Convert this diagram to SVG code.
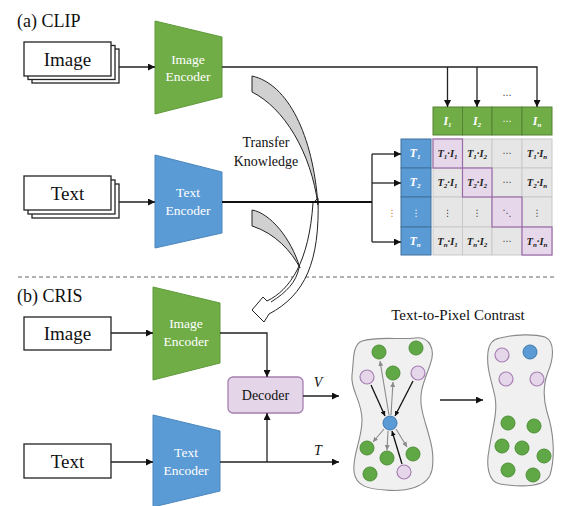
<svg xmlns="http://www.w3.org/2000/svg" width="563" height="506" viewBox="0 0 563 506" font-family="'Liberation Serif', 'Times New Roman', Times, 'Noto Serif', 'DejaVu Serif', serif">
<defs>
<style>
.ser{fill:#111}
.enc{fill:#fff;font-size:13.5px;text-anchor:middle}
.box{fill:#fff;stroke:#222;stroke-width:1.3}
.green{fill:#70ad47;stroke:#5f9a3a;stroke-width:1}
.blue{fill:#5b9bd5;stroke:#4a86bd;stroke-width:1}
.ln{fill:none;stroke:#222;stroke-width:1.3}
.lnb{fill:none;stroke:#111;stroke-width:2}
.cell{fill:#e6e6e6;stroke:#c9c9c9;stroke-width:1}
.dcell{fill:#e6d8ea;stroke:#9c6aa8;stroke-width:1.2}
.icell{fill:#70ad47;stroke:#548235;stroke-width:1}
.tcell{fill:#5b9bd5;stroke:#41719c;stroke-width:1}
.mc{font-style:italic;font-weight:bold;font-size:10.5px;fill:#222;text-anchor:middle}
.hc{font-style:italic;font-weight:bold;font-size:12px;fill:#fff;text-anchor:middle}
.sb{font-size:7px}
.dots{font-family:'DejaVu Sans',sans-serif;font-size:9px;fill:#333;text-anchor:middle}
.gc{fill:#5fa845;stroke:#4e8f37;stroke-width:1}
.pc{fill:#e6d6ea;stroke:#a77fb3;stroke-width:1.2}
.bc{fill:#5b9bd5;stroke:#3f78ad;stroke-width:1}
.ga{stroke:#8a8a8a;stroke-width:1.1;fill:none}
.ba{stroke:#111;stroke-width:1.3;fill:none}
</style>
<marker id="arr" viewBox="0 0 10 10" refX="10" refY="5" markerWidth="7" markerHeight="7" markerUnits="userSpaceOnUse" orient="auto"><path d="M0,0 L10,5 L0,10 z" fill="#111"/></marker>
<marker id="ag" viewBox="0 0 10 10" refX="10" refY="5" markerWidth="5" markerHeight="5" markerUnits="userSpaceOnUse" orient="auto"><path d="M0,0 L10,5 L0,10 z" fill="#8a8a8a"/></marker>
<marker id="ab" viewBox="0 0 10 10" refX="10" refY="5" markerWidth="5" markerHeight="5" markerUnits="userSpaceOnUse" orient="auto"><path d="M0,0 L10,5 L0,10 z" fill="#111"/></marker>
</defs>
<rect width="563" height="506" fill="#fff"/>

<text class="ser" x="17" y="27" font-size="18">(a) CLIP</text>
<text class="ser" x="17" y="302" font-size="18">(b) CRIS</text>
<line x1="18" y1="277" x2="556" y2="277" stroke="#666" stroke-width="1.2" stroke-dasharray="4,3"/>

<g id="transfer">
<path d="M318,198 C320,262 305,295 269,314 L264,322 L252,310 L263,297 L267,301 C290,290 309,262 313,203 Z" fill="#fff" stroke="#222" stroke-width="1"/>
<path d="M299,268 C296,282 287,292 271,302" fill="none" stroke="#222" stroke-width="1"/>
<path d="M252,76 C288,84 313,135 318,205 C311,152 284,108 252,92 Z" fill="#d0d0d0" stroke="#222" stroke-width="1"/>
<path d="M252,210 C270,213 291,238 300,268 C292,252 275,233 252,226 Z" fill="#d0d0d0" stroke="#222" stroke-width="1"/>
<text class="ser" x="266" y="147" font-size="14" text-anchor="middle">Transfer</text>
<text class="ser" x="266" y="166" font-size="14" text-anchor="middle">Knowledge</text>
</g>

<g id="a-image">
<rect class="box" x="32" y="49" width="87" height="34"/>
<rect class="box" x="28" y="45.5" width="87" height="34"/>
<rect class="box" x="24" y="42" width="87" height="34"/>
<text class="ser" x="67.5" y="65.5" font-size="19" text-anchor="middle">Image</text>
</g>
<g id="a-text">
<rect class="box" x="32" y="184" width="87" height="34"/>
<rect class="box" x="28" y="180" width="87" height="34"/>
<rect class="box" x="24" y="176" width="87" height="34"/>
<text class="ser" x="67.5" y="200" font-size="19" text-anchor="middle">Text</text>
</g>
<g id="a-image-encoder">
<polygon class="green" points="155,21 222,37 222,97 155,114"/>
<text class="enc" x="188" y="64">Image</text>
<text class="enc" x="188" y="81">Encoder</text>
</g>
<g id="a-text-encoder">
<polygon class="blue" points="155,155 222,172 222,233 155,248"/>
<text class="enc" x="188" y="197">Text</text>
<text class="enc" x="188" y="215">Encoder</text>
</g>

<g id="matrix">
<rect class="icell" x="433" y="107" width="29.5" height="28"/>
<rect class="icell" x="462.5" y="107" width="29.5" height="28"/>
<rect class="icell" x="492" y="107" width="30" height="28"/>
<rect class="icell" x="522" y="107" width="30" height="28"/>
<text class="hc" x="447.5" y="125">I<tspan class="sb" dy="2">1</tspan></text>
<text class="hc" x="477" y="125">I<tspan class="sb" dy="2">2</tspan></text>
<text class="dots" x="507" y="124" style="fill:#fff">⋯</text>
<text class="hc" x="537" y="125">I<tspan class="sb" dy="2">n</tspan></text>
<text class="dots" x="507" y="98">⋯</text>

<rect class="tcell" x="401" y="139" width="30" height="29"/>
<rect class="tcell" x="401" y="168" width="30" height="29"/>
<rect class="tcell" x="401" y="197" width="30" height="30"/>
<rect class="tcell" x="401" y="227" width="30" height="28"/>
<text class="hc" x="415" y="157">T<tspan class="sb" dy="2">1</tspan></text>
<text class="hc" x="415" y="186">T<tspan class="sb" dy="2">2</tspan></text>
<text class="dots" x="416" y="216" style="fill:#fff">⋮</text>
<text class="hc" x="415" y="245">T<tspan class="sb" dy="2">n</tspan></text>
<text class="dots" x="392" y="216" style="fill:#d07a20">⋮</text>

<rect class="cell" x="433" y="139" width="29.5" height="29"/>
<rect class="cell" x="462.5" y="139" width="29.5" height="29"/>
<rect class="cell" x="492" y="139" width="30" height="29"/>
<rect class="cell" x="522" y="139" width="30" height="29"/>
<rect class="cell" x="433" y="168" width="29.5" height="29"/>
<rect class="cell" x="462.5" y="168" width="29.5" height="29"/>
<rect class="cell" x="492" y="168" width="30" height="29"/>
<rect class="cell" x="522" y="168" width="30" height="29"/>
<rect class="cell" x="433" y="197" width="29.5" height="30"/>
<rect class="cell" x="462.5" y="197" width="29.5" height="30"/>
<rect class="cell" x="492" y="197" width="30" height="30"/>
<rect class="cell" x="522" y="197" width="30" height="30"/>
<rect class="cell" x="433" y="227" width="29.5" height="28"/>
<rect class="cell" x="462.5" y="227" width="29.5" height="28"/>
<rect class="cell" x="492" y="227" width="30" height="28"/>
<rect class="cell" x="522" y="227" width="30" height="28"/>
<rect class="dcell" x="433" y="139" width="29.5" height="29"/>
<rect class="dcell" x="462.5" y="168" width="29.5" height="29"/>
<rect class="dcell" x="492" y="197" width="30" height="30"/>
<rect class="dcell" x="522" y="227" width="30" height="28"/>

<text class="mc" x="447.5" y="157">T<tspan class="sb" dy="2">1</tspan><tspan dy="-2">·I</tspan><tspan class="sb" dy="2">1</tspan></text>
<text class="mc" x="477" y="157">T<tspan class="sb" dy="2">1</tspan><tspan dy="-2">·I</tspan><tspan class="sb" dy="2">2</tspan></text>
<text class="dots" x="507" y="156">⋯</text>
<text class="mc" x="537" y="157">T<tspan class="sb" dy="2">1</tspan><tspan dy="-2">·I</tspan><tspan class="sb" dy="2">n</tspan></text>

<text class="mc" x="447.5" y="186">T<tspan class="sb" dy="2">2</tspan><tspan dy="-2">·I</tspan><tspan class="sb" dy="2">1</tspan></text>
<text class="mc" x="477" y="186">T<tspan class="sb" dy="2">2</tspan><tspan dy="-2">·I</tspan><tspan class="sb" dy="2">2</tspan></text>
<text class="dots" x="507" y="185">⋯</text>
<text class="mc" x="537" y="186">T<tspan class="sb" dy="2">2</tspan><tspan dy="-2">·I</tspan><tspan class="sb" dy="2">n</tspan></text>

<text class="dots" x="447.5" y="216">⋮</text>
<text class="dots" x="477" y="216">⋮</text>
<text class="dots" x="507" y="216">⋱</text>
<text class="dots" x="537" y="216">⋮</text>

<text class="mc" x="447.5" y="245">T<tspan class="sb" dy="2">n</tspan><tspan dy="-2">·I</tspan><tspan class="sb" dy="2">1</tspan></text>
<text class="mc" x="477" y="245">T<tspan class="sb" dy="2">n</tspan><tspan dy="-2">·I</tspan><tspan class="sb" dy="2">2</tspan></text>
<text class="dots" x="507" y="244">⋯</text>
<text class="mc" x="537" y="245">T<tspan class="sb" dy="2">n</tspan><tspan dy="-2">·I</tspan><tspan class="sb" dy="2">n</tspan></text>
</g>

<g id="b-image">
<rect class="box" x="24" y="317" width="87" height="33"/>
<text class="ser" x="67.5" y="340" font-size="19" text-anchor="middle">Image</text>
</g>
<g id="b-text">
<rect class="box" x="24" y="444" width="87" height="34"/>
<text class="ser" x="67.5" y="468" font-size="19" text-anchor="middle">Text</text>
</g>
<g id="b-image-encoder">
<polygon class="green" points="153,287 220,303 220,363 153,380"/>
<text class="enc" x="186" y="328">Image</text>
<text class="enc" x="186" y="346">Encoder</text>
</g>
<g id="b-text-encoder">
<polygon class="blue" points="153,415 220,431 220,491 153,507"/>
<text class="enc" x="186" y="457">Text</text>
<text class="enc" x="186" y="475">Encoder</text>
</g>
<g id="decoder">
<rect x="228" y="377" width="75" height="36" rx="5" fill="#e4d5e8" stroke="#a57fb0" stroke-width="1.3"/>
<text class="ser" x="265.5" y="400" font-size="14" text-anchor="middle">Decoder</text>
</g>

<g id="contrast">
<text class="ser" x="458" y="320" font-size="15" text-anchor="middle">Text-to-Pixel  Contrast</text>
<path d="M362,341 C378,336 400,340 415,338 C430,336 436,350 430,365 C425,380 418,392 422,410 C426,430 436,448 432,470 C428,488 405,492 385,490 C368,489 356,486 354,472 C352,455 362,440 362,420 C362,400 350,390 352,375 C354,360 352,345 362,341 Z" fill="#f0f0f0" stroke="#888" stroke-width="1.1"/>
<line class="ga" x1="389" y1="415" x2="380" y2="361" marker-end="url(#ag)"/>
<line class="ga" x1="391" y1="415" x2="393" y2="382" marker-end="url(#ag)"/>
<line class="ga" x1="384" y1="429" x2="373" y2="442" marker-end="url(#ag)"/>
<line class="ga" x1="388" y1="431" x2="387" y2="450" marker-end="url(#ag)"/>
<line class="ga" x1="396" y1="429" x2="407" y2="447" marker-end="url(#ag)"/>
<line class="ba" x1="371" y1="385" x2="385" y2="416" marker-end="url(#ab)"/>
<line class="ba" x1="413" y1="381" x2="395" y2="416" marker-end="url(#ab)"/>
<line class="ba" x1="402" y1="464" x2="392" y2="431" marker-end="url(#ab)"/>
<circle class="gc" cx="379" cy="352" r="7"/>
<circle class="gc" cx="416" cy="348" r="7"/>
<circle class="gc" cx="393" cy="373" r="7"/>
<circle class="pc" cx="367" cy="377" r="7"/>
<circle class="pc" cx="418" cy="373" r="7"/>
<circle class="bc" cx="390" cy="423" r="7"/>
<circle class="gc" cx="367" cy="448" r="7"/>
<circle class="gc" cx="387" cy="458" r="7"/>
<circle class="gc" cx="413" cy="454" r="7"/>
<circle class="gc" cx="370" cy="474" r="7"/>
<circle class="pc" cx="404" cy="472" r="7"/>

<path d="M500,338 C515,334 535,334 545,337 C556,342 553,360 548,372 C543,385 543,398 547,412 C553,430 556,455 550,475 C544,488 520,487 500,484 C488,482 486,465 489,450 C492,430 498,412 495,397 C492,382 486,368 488,352 C489,343 493,339 500,338 Z" fill="#f0f0f0" stroke="#888" stroke-width="1.1"/>
<circle class="pc" cx="502" cy="355" r="7"/>
<circle class="bc" cx="530" cy="352" r="7"/>
<circle class="pc" cx="506" cy="379" r="7"/>
<circle class="pc" cx="537" cy="379" r="7"/>
<circle class="gc" cx="508" cy="423" r="7"/>
<circle class="gc" cx="534" cy="426" r="7"/>
<circle class="gc" cx="502" cy="446" r="7"/>
<circle class="gc" cx="522" cy="448" r="7"/>
<circle class="gc" cx="544" cy="456" r="7"/>
<circle class="gc" cx="508" cy="470" r="7"/>
<circle class="gc" cx="533" cy="475" r="7"/>
</g>

<g id="connectors">
<line class="ln" x1="119" y1="67" x2="155" y2="67" marker-end="url(#arr)"/>
<line class="ln" x1="119" y1="202" x2="155" y2="202" marker-end="url(#arr)"/>
<polyline class="ln" points="222,67 537,67 537,107" marker-end="url(#arr)"/>
<line class="ln" x1="447.5" y1="67" x2="447.5" y2="107" marker-end="url(#arr)"/>
<line class="ln" x1="477" y1="67" x2="477" y2="107" marker-end="url(#arr)"/>
<line class="lnb" x1="222" y1="202" x2="372" y2="202"/>
<line class="ln" x1="372" y1="154" x2="372" y2="242"/>
<line class="ln" x1="372" y1="154" x2="401" y2="154" marker-end="url(#arr)"/>
<line class="ln" x1="372" y1="183" x2="401" y2="183" marker-end="url(#arr)"/>
<line class="ln" x1="372" y1="242" x2="401" y2="242" marker-end="url(#arr)"/>
<line class="ln" x1="111" y1="333" x2="153" y2="333" marker-end="url(#arr)"/>
<line class="ln" x1="111" y1="462" x2="153" y2="462" marker-end="url(#arr)"/>
<polyline class="ln" points="220,333 267,333 267,377" marker-end="url(#arr)"/>
<line class="ln" x1="220" y1="462" x2="339" y2="462" marker-end="url(#arr)"/>
<line class="ln" x1="267" y1="462" x2="267" y2="413" marker-end="url(#arr)"/>
<line class="ln" x1="303" y1="396" x2="339" y2="396" marker-end="url(#arr)"/>
<line class="ln" x1="440" y1="400" x2="483" y2="400" marker-end="url(#arr)"/>
<text class="ser" x="318" y="387" font-size="14" font-style="italic" text-anchor="middle">V</text>
<text class="ser" x="318" y="455" font-size="14" font-style="italic" text-anchor="middle">T</text>
</g>
</svg>
